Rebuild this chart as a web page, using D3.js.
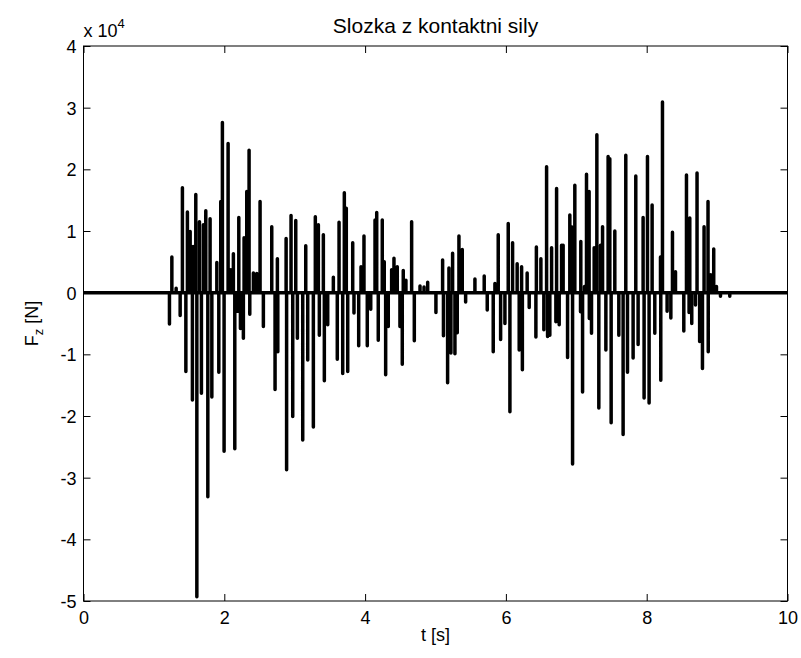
<!DOCTYPE html>
<html>
<head>
<meta charset="utf-8">
<script src="https://cdn.jsdelivr.net/npm/d3@7"></script>
<style>
  html, body { margin: 0; padding: 0; background: #fff; }
  svg { display: block; }
  text { font-family: "Liberation Sans", Arial, Helvetica, sans-serif; fill: #000; }
</style>
</head>
<body>
<svg id="chart" width="801" height="658"></svg>
<script>
// Contact force, z component: time of each peak [s] and peak force [N]
const spikeTime = [
  1.221, 1.255, 1.316, 1.373, 1.405, 1.454, 1.476, 1.515, 1.547, 1.557,
  1.595, 1.610, 1.647, 1.675, 1.703, 1.737, 1.766, 1.798, 1.823, 1.894,
  1.922, 1.950, 1.973, 1.997, 2.054, 2.092, 2.129, 2.149, 2.192, 2.206,
  2.229, 2.271, 2.281, 2.319, 2.352, 2.362, 2.413, 2.461, 2.508, 2.555,
  2.674, 2.721, 2.754, 2.760, 2.878, 2.885, 2.948, 2.972, 3.015, 3.038,
  3.114, 3.157, 3.185, 3.265, 3.293, 3.336, 3.350, 3.407, 3.421, 3.469,
  3.549, 3.605, 3.630, 3.682, 3.705, 3.733, 3.753, 3.824, 3.842, 3.909,
  3.942, 3.984, 4.031, 4.080, 4.141, 4.165, 4.187, 4.244, 4.272, 4.292,
  4.329, 4.377, 4.410, 4.457, 4.495, 4.528, 4.542, 4.580, 4.661, 4.699,
  4.780, 4.837, 4.889, 5.006, 5.101, 5.113, 5.172, 5.191, 5.219, 5.243,
  5.276, 5.309, 5.333, 5.380, 5.428, 5.560, 5.692, 5.735, 5.820, 5.844,
  5.891, 5.925, 5.986, 6.033, 6.057, 6.095, 6.160, 6.189, 6.223, 6.234,
  6.302, 6.331, 6.426, 6.433, 6.497, 6.539, 6.578, 6.592, 6.624, 6.649,
  6.710, 6.720, 6.757, 6.791, 6.813, 6.876, 6.908, 6.932, 6.947, 6.979,
  7.060, 7.064, 7.089, 7.117, 7.145, 7.182, 7.185, 7.216, 7.254, 7.292,
  7.320, 7.344, 7.373, 7.420, 7.452, 7.476, 7.495, 7.547, 7.604, 7.665,
  7.703, 7.727, 7.807, 7.845, 7.878, 7.949, 7.963, 8.011, 8.034, 8.077,
  8.115, 8.196, 8.200, 8.224, 8.290, 8.343, 8.366, 8.409, 8.527, 8.565,
  8.602, 8.612, 8.640, 8.693, 8.715, 8.752, 8.792, 8.815, 8.871, 8.874,
  8.909, 8.952, 8.991, 9.048, 9.180
];
const spikeForce = [
  -5100, 5800, 700, -3700, 17000, -12800, 13100, 9900, -17400, 7500,
  15900, -49300, 11500, -16300, 11000, 13300, -33100, 12000, -16900, 4900,
  -12900, 14800, 27600, -25700, 24200, 3700, 6300, -25300, -3000, 12200,
  -5800, -7400, 8900, 16400, 23100, -3500, 3200, 3100, 14800, -5500,
  10700, -15700, 5500, -9600, 8800, -28700, 12500, -20100, 11700, -7400,
  -23900, 7600, -10900, -21800, 12300, 11000, -6900, 9400, -14300, -5200,
  2500, -10800, 11400, -13100, 16200, 13700, -12800, 8100, -3300, -8600,
  4200, 9200, -8600, -2700, 11800, 13000, -7700, 11800, 5000, -13300,
  -5500, 3700, 5600, 4200, -5500, -11600, 3600, 2000, 11500, -7800,
  1100, 900, 1700, -3200, 5300, -7000, -14600, 4000, -9800, 6400,
  -9900, -6500, 9200, 7000, -1500, 2200, 2700, -2800, -9600, 1500,
  9400, -7600, -5000, 11200, -19300, 8100, 4700, -9300, 4200, -12500,
  3200, -2400, -7200, 7400, 5500, -6000, 20400, -7100, -6900, 7300,
  -4700, 16900, -5200, 7700, 7700, -10500, 12600, 10700, -27800, 17400,
  -3100, 8300, -16100, 1000, 19200, 16400, -4200, -6600, 7300, 25600,
  -18700, 7700, 10700, -9300, 22100, 21700, -21100, 10000, -6900, -23000,
  22300, -12900, -10600, 18900, -8400, 12200, -17100, 22100, -17900, 14200,
  -6600, 5800, -14200, 30900, -3000, -4100, 9800, 3400, -6200, 19100,
  -3200, 12100, -5000, -2000, 19400, -7900, -12300, 10700, 14800, -9600,
  2900, 7100, 1000, -600, -600
];
const timeSpan = [0, 10];
const xTicks = [0, 2, 4, 6, 8, 10];
const yTicks = [-50000, -40000, -30000, -20000, -10000, 0, 10000, 20000, 30000, 40000];
const yExponent = 4;
const titleText = "Slozka z kontaktni sily";
const xLabel = "t [s]";

const svg = d3.select("#chart");
const plot = { left: 83.5, right: 787.5, top: 46, bottom: 601 };

const x = d3.scaleLinear().domain(timeSpan).range([plot.left, plot.right]);
const y = d3.scaleLinear().domain([-50000, 40000]).range([plot.bottom, plot.top]);

// Signal: baseline at zero, each peak is a sample rising from and returning to it
const series = [[timeSpan[0], 0]];
spikeTime.forEach((t, i) => {
  series.push([t, 0], [t, spikeForce[i]], [t, 0]);
});
series.push([timeSpan[1], 0]);

svg.append("clipPath").attr("id", "plotClip")
  .append("rect")
  .attr("x", plot.left).attr("y", plot.top)
  .attr("width", plot.right - plot.left).attr("height", plot.bottom - plot.top);

svg.append("path")
  .datum(series)
  .attr("clip-path", "url(#plotClip)")
  .attr("fill", "none")
  .attr("stroke", "#000")
  .attr("stroke-width", 3.5)
  .attr("stroke-linejoin", "round")
  .attr("stroke-linecap", "round")
  .attr("d", d3.line().x(d => x(d[0])).y(d => y(d[1])));

// Axes with inward ticks on all four sides (box style)
const fmtY = v => d3.format("d")(v / Math.pow(10, yExponent)).replace("\u2212", "-");
const tickLen = 7;

const gx = svg.append("g").attr("transform", `translate(0,${plot.bottom})`)
  .call(d3.axisBottom(x).tickValues(xTicks).tickSizeInner(-tickLen).tickSizeOuter(0).tickPadding(10).tickFormat(d3.format("d")));
const gxTop = svg.append("g").attr("transform", `translate(0,${plot.top})`)
  .call(d3.axisTop(x).tickValues(xTicks).tickSizeInner(-tickLen).tickSizeOuter(0).tickFormat(""));
const gy = svg.append("g").attr("transform", `translate(${plot.left},0)`)
  .call(d3.axisLeft(y).tickValues(yTicks).tickSizeInner(-tickLen).tickSizeOuter(0).tickPadding(7).tickFormat(fmtY));
const gyRight = svg.append("g").attr("transform", `translate(${plot.right},0)`)
  .call(d3.axisRight(y).tickValues(yTicks).tickSizeInner(-tickLen).tickSizeOuter(0).tickFormat(""));

[gx, gxTop, gy, gyRight].forEach(g => {
  g.select(".domain").remove();
  g.selectAll(".tick line").attr("stroke", "#000").attr("stroke-width", 1);
  g.selectAll(".tick text").attr("font-size", 18).attr("font-family", "'Liberation Sans', Arial, sans-serif").attr("fill", "#000");
});
gx.selectAll(".tick text").attr("dy", "0.71em");
gy.selectAll(".tick text").attr("dy", "0.36em");

svg.append("rect")
  .attr("x", plot.left).attr("y", plot.top)
  .attr("width", plot.right - plot.left).attr("height", plot.bottom - plot.top)
  .attr("fill", "none").attr("stroke", "#000").attr("stroke-width", 1);

// Exponent label above the y axis
const expLabel = svg.append("text")
  .attr("x", plot.left).attr("y", 37)
  .attr("font-size", 18);
expLabel.append("tspan").text("x 10");
expLabel.append("tspan").attr("font-size", 13).attr("dy", -9).text(yExponent);

// Title
svg.append("text")
  .attr("x", (plot.left + plot.right) / 2).attr("y", 33)
  .attr("text-anchor", "middle").attr("font-size", 21)
  .text(titleText);

// Axis labels
svg.append("text")
  .attr("x", (plot.left + plot.right) / 2).attr("y", 641)
  .attr("text-anchor", "middle").attr("font-size", 18)
  .text(xLabel);

const yl = svg.append("text")
  .attr("transform", `translate(38,${(plot.top + plot.bottom) / 2}) rotate(-90)`)
  .attr("text-anchor", "middle").attr("font-size", 18);
yl.append("tspan").text("F");
yl.append("tspan").attr("font-size", 13).attr("dy", 5).text("z");
yl.append("tspan").attr("dy", -5).text(" [N]");
</script>
</body>
</html>
